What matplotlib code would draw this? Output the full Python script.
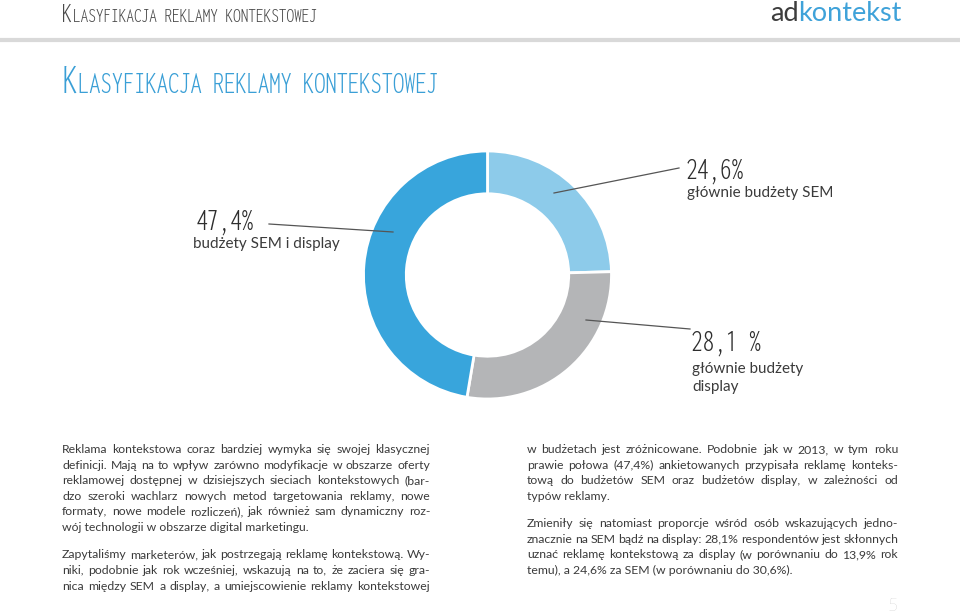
import matplotlib
matplotlib.use('Agg')
import matplotlib.pyplot as plt
from matplotlib import font_manager
from matplotlib.font_manager import FontProperties
from matplotlib.lines import Line2D

# Data
segments = ['głównie budżety SEM', 'głównie budżety display', 'budżety SEM i display']
shares = [24.6, 28.1, 47.4]
share_labels = ['24,6%', '28,1 %', '47,4%']
colors = ['#8dcbea', '#b4b5b7', '#38a5dc']

title = 'Klasyfikacja reklamy kontekstowej'

left_col = [
    'Reklama kontekstowa coraz bardziej wymyka się swojej klasycznej',
    'definicji. Mają na to wpływ zarówno modyfikacje w obszarze oferty',
    'reklamowej dostępnej w dzisiejszych sieciach kontekstowych (bar-',
    'dzo szeroki wachlarz nowych metod targetowania reklamy, nowe',
    'formaty, nowe modele rozliczeń), jak również sam dynamiczny roz-',
    'wój technologii w obszarze digital marketingu.',
    '',
    'Zapytaliśmy marketerów, jak postrzegają reklamę kontekstową. Wy-',
    'niki, podobnie jak rok wcześniej, wskazują na to, że zaciera się gra-',
    'nica między SEM a display, a umiejscowienie reklamy kontekstowej',
]
right_col = [
    'w budżetach jest zróżnicowane. Podobnie jak w 2013, w tym roku',
    'prawie połowa (47,4%) ankietowanych przypisała reklamę konteks-',
    'tową do budżetów SEM oraz budżetów display, w zależności od',
    'typów reklamy.',
    '',
    'Zmieniły się natomiast proporcje wśród osób wskazujących jedno-',
    'znacznie na SEM bądź na display: 28,1% respondentów jest skłonnych',
    'uznać reklamę kontekstową za display (w porównaniu do 13,9% rok',
    'temu), a 24,6% za SEM (w porównaniu do 30,6%).',
]
left_last = {5}          # lines that are not justified
right_last = {3, 8}

W, H = 960, 613


def fx(x):
    return x / W


def fy(y):
    return 1 - y / H


def condensed_font():
    # look for a narrow face among the installed files, else a light Lato
    names = [f.fname for f in font_manager.fontManager.ttflist]
    for key in ['ExtraCondensedLight', 'CondensedLight', 'ExtraCondensed',
                'Condensed', 'Narrow']:
        for f in names:
            if key.lower() in f.split('/')[-1].lower():
                return FontProperties(fname=f), True
    return FontProperties(family='Lato', weight='light'), False


narrow, is_narrow = condensed_font()
body = 'Lato'

fig = plt.figure(figsize=(9.6, 6.13), dpi=100)
fig.patch.set_facecolor('white')
renderer = fig.canvas.get_renderer()


def text_width(s, size, **kw):
    t = fig.text(0, 0, s, fontsize=size, **kw)
    w = t.get_window_extent(renderer).width
    t.remove()
    return w


def small_caps(text, x, y, big, small, color, width):
    # first letter big, the rest in capitals at a smaller size, fitted to width
    w = (text_width(text[0].upper(), big, fontproperties=narrow) +
         text_width(text[1:].upper(), small, fontproperties=narrow))
    k = min(1.4, width / w)
    t = fig.text(fx(x), fy(y), text[0].upper(), fontproperties=narrow,
                 fontsize=big * k, color=color, va='baseline')
    x2 = x + t.get_window_extent(renderer).width + 1
    fig.text(fx(x2), fy(y), text[1:].upper(), fontproperties=narrow,
             fontsize=small * k, color=color, va='baseline')


def number(s, x, y, size, width):
    k = min(1.0, width / text_width(s, size, fontproperties=narrow))
    fig.text(fx(x), fy(y), s, fontproperties=narrow, fontsize=size * k,
             color='#2e2e2e', va='baseline')


def fit_size(lines, last, width, base, min_gap):
    k = 1.0
    for i, line in enumerate(lines):
        if line == '' or i in last:
            continue
        words = line.split(' ')
        total = sum(text_width(w, base, family=body) for w in words)
        k = min(k, (width - (len(words) - 1) * min_gap) / total)
    return base * k


def put_lines(lines, x0, x1, y0, step, last, size):
    y = y0
    for i, line in enumerate(lines):
        if line == '':
            y += step * 0.75
            continue
        kw = dict(fontsize=size, color='#3b3b3b', family=body, va='baseline')
        if i in last:
            fig.text(fx(x0), fy(y), line, **kw)
        else:
            words = line.split(' ')
            objs = [fig.text(0, fy(y), w, **kw) for w in words]
            widths = [o.get_window_extent(renderer).width for o in objs]
            gap = (x1 - x0 - sum(widths)) / (len(words) - 1)
            x = x0
            for o, w in zip(objs, widths):
                o.set_x(fx(x))
                x += w + gap
        y += step


# Header
slack = 1.0 if is_narrow else 1.12
small_caps(title, 62, 22, 15, 11.5, '#4a4a4a', 255 * slack)
t_ad = fig.text(fx(770), fy(21), 'ad', fontsize=19.5, color='#3d3d3d',
                family=body, va='baseline')
x_k = 770 + t_ad.get_window_extent(renderer).width
fig.text(fx(x_k), fy(21), 'kontekst', fontsize=19.5, color='#3fa2d9',
         family=body, va='baseline')
fig.add_artist(Line2D([0, 1], [fy(40), fy(40)], transform=fig.transFigure,
                      color='#d9d9d9', lw=3))

# Big title
small_caps(title, 62, 93, 31, 24, '#3a9fd6', 373 * slack)

# Donut
cx, cy, r = 487.5, 275, 124
ax = fig.add_axes([fx(cx - r), fy(cy + r), 2 * r / W, 2 * r / H])
ax.pie(shares, colors=colors, startangle=90, counterclock=False, radius=1,
       wedgeprops=dict(width=0.345, edgecolor='white', linewidth=2))
ax.set_xlim(-1, 1)
ax.set_ylim(-1, 1)
ax.axis('off')

# Leader lines
for (x0, y0), (x1, y1) in [((269, 224), (393, 232)),
                           ((554, 193), (679, 168)),
                           ((586, 320), (690, 329))]:
    fig.add_artist(Line2D([fx(x0), fx(x1)], [fy(y0), fy(y1)],
                          transform=fig.transFigure, color='#555555', lw=0.9))

# Labels
lab_kw = dict(fontsize=11, color='#3b3b3b', family=body, va='baseline')
number(share_labels[2], 196, 229, 24, 66)
fig.text(fx(193), fy(248), segments[2], **lab_kw)
number(share_labels[0], 686, 178, 24, 66)
fig.text(fx(687), fy(197), segments[0], **lab_kw)
number(share_labels[1], 691, 350, 24, 70)
fig.text(fx(692), fy(373), 'głównie budżety', **lab_kw)
fig.text(fx(692), fy(391), 'display', **lab_kw)

# Body text, one size for both columns
size = min(fit_size(left_col, left_last, 368, 9.6, 2.0),
           fit_size(right_col, right_last, 371, 9.6, 2.0))
put_lines(left_col, 62, 430, 453, 15.6, left_last, size)
put_lines(right_col, 527, 898, 453, 15.6, right_last, size)

fig.text(fx(888), fy(611), '5', fontsize=13, color='#b0b0b0', family=body,
         fontweight='light', va='baseline')

fig.savefig('out.png', dpi=100)
